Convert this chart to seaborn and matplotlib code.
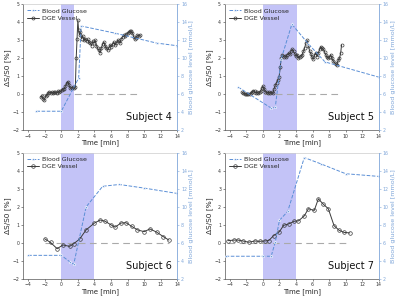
import numpy as np
import pandas as pd
import seaborn as sns
import matplotlib.pyplot as plt

# ---- data ----
subjects = ["Subject 4", "Subject 5", "Subject 6", "Subject 7"]
infusion_end = [1.5, 4.1, 4.0, 4.0]

# blood glucose [mmol/L] (right axis)
bg4_t = [-3, 0, 2.1, 2.4, 6.5, 11.5, 14]
bg4_v = [4.1, 4.1, 7.8, 13.6, 12.8, 11.7, 11.4]
bg5_t = [-3, 1.0, 1.5, 2.2, 3.5, 5.5, 7.5, 14]
bg5_v = [6.8, 4.45, 4.55, 9.9, 13.8, 11.6, 9.6, 7.9]
bg6_t = [-4, 0, 1, 1.5, 3, 5, 7, 10, 14]
bg6_v = [4.6, 4.6, 3.9, 3.6, 10.0, 12.3, 12.5, 12.1, 11.5]
bg7_t = [-4.5, 0, 1, 1.5, 2, 3, 5, 7, 10, 14]
bg7_v = [4.5, 4.5, 4.5, 6.1, 8.5, 9.5, 15.5, 14.8, 13.7, 13.4]

# DGE vessel signal change [%] (left axis)
dge4_t = [-2.5, -2.35, -2.2, -2.05, -1.9, -1.75, -1.6, -1.45, -1.3, -1.15, -1.0, -0.85,
          -0.7, -0.55, -0.4, -0.25, -0.1, 0.05, 0.2, 0.35, 0.5, 0.65, 0.8, 0.95, 1.1, 1.25,
          1.4, 1.55, 1.7, 1.8, 1.9, 2.0, 2.1, 2.2, 2.3, 2.45, 2.6, 2.75, 2.9, 3.05, 3.2,
          3.35, 3.5, 3.65, 3.8, 3.95, 4.1, 4.25, 4.4, 4.55, 4.7, 4.85, 5.0, 5.15, 5.3, 5.45,
          5.6, 5.75, 5.9, 6.05, 6.2, 6.35, 6.5, 6.65, 6.8, 6.95, 7.1, 7.25, 7.4, 7.55, 7.7,
          7.85, 8.0, 8.15, 8.3, 8.45, 8.6, 8.75, 8.9, 9.05, 9.2, 9.35, 9.5]
dge4_v = [-0.15, -0.1, -0.25, -0.3, -0.12, -0.05, 0.05, 0.12, 0.08, 0.1, 0.05, 0.1,
          0.1, 0.05, 0.15, 0.12, 0.15, 0.22, 0.3, 0.28, 0.45, 0.62, 0.7, 0.5, 0.32, 0.35,
          0.4, 0.35, 0.42, 2.0, 3.05, 4.12, 3.55, 3.3, 3.45, 3.1, 3.25, 3.0, 3.1, 2.95, 3.05,
          2.9, 2.85, 2.7, 2.95, 2.85, 3.0, 2.7, 2.55, 2.45, 2.3, 2.6, 2.8, 2.9, 2.7, 2.55,
          2.45, 2.6, 2.75, 2.65, 2.8, 2.9, 2.75, 2.85, 3.0, 2.95, 2.85, 3.1, 3.2, 3.3, 3.25,
          3.35, 3.4, 3.45, 3.5, 3.5, 3.4, 3.2, 3.1, 3.15, 3.3, 3.25, 3.3]

dge5_t = [-2.5, -2.35, -2.2, -2.05, -1.9, -1.75, -1.6, -1.45, -1.3, -1.15, -1.0, -0.85,
          -0.7, -0.55, -0.4, -0.25, -0.1, 0.0, 0.15, 0.3, 0.45, 0.6, 0.75, 0.9, 1.05, 1.2,
          1.35, 1.5, 1.65, 1.8, 1.95, 2.1, 2.2, 2.35, 2.5, 2.65, 2.8, 2.95, 3.1, 3.25, 3.4,
          3.55, 3.7, 3.85, 4.0, 4.15, 4.3, 4.45, 4.6, 4.75, 4.9, 5.05, 5.2, 5.35, 5.5, 5.65,
          5.8, 5.95, 6.1, 6.25, 6.4, 6.55, 6.7, 6.85, 7.0, 7.15, 7.3, 7.45, 7.6, 7.75, 7.9,
          8.05, 8.2, 8.35, 8.5, 8.65, 8.8, 8.95, 9.1, 9.25, 9.4, 9.5]
dge5_v = [0.1, 0.05, 0.02, 0.0, 0.0, 0.02, 0.0, 0.05, 0.12, 0.2, 0.15, 0.08,
          0.12, 0.05, 0.1, 0.2, 0.35, 0.45, 0.3, 0.12, 0.1, 0.08, 0.1, 0.08, 0.1, 0.05,
          0.3, 0.5, 0.65, 0.8, 0.95, 1.5, 2.0, 2.2, 2.1, 2.15, 2.1, 2.2, 2.3, 2.25, 2.4,
          2.5, 2.4, 2.25, 2.15, 2.2, 2.0, 2.1, 2.15, 2.2, 2.4, 2.6, 2.85, 3.0, 2.7, 2.4,
          2.25, 2.05, 1.95, 2.2, 2.3, 2.1, 2.3, 2.5, 2.65, 2.55, 2.5, 2.35, 2.2, 2.05, 2.0,
          2.1, 2.2, 2.0, 1.85, 1.75, 1.7, 1.6, 1.9, 2.0, 2.3, 2.75]

dge6_t = [-2, -1.3, -0.5, 0.2, 1.0, 1.5, 2.2, 3.0, 4.0, 4.7, 5.3, 6.0, 6.5, 7.2, 7.8,
          8.5, 9.2, 10.0, 10.7, 11.5, 12.3, 13.0]
dge6_v = [0.22, 0.02, -0.33, -0.12, -0.2, -0.05, 0.2, 0.72, 1.1, 1.27, 1.2, 1.0, 0.87,
          1.1, 1.12, 0.92, 0.72, 0.62, 0.77, 0.6, 0.35, 0.15]

dge7_t = [-4.2, -3.5, -3.0, -2.4, -1.7, -1.0, -0.4, 0.2, 0.7, 1.3, 2.0, 2.5, 3.1, 3.8,
          4.3, 5.0, 5.5, 6.2, 6.7, 7.3, 7.9, 8.6, 9.2, 9.8, 10.5]
dge7_v = [0.12, 0.15, 0.15, 0.1, 0.03, 0.1, 0.08, 0.1, 0.12, 0.4, 0.62, 0.97, 1.05, 1.2,
          1.22, 1.5, 1.9, 1.8, 2.45, 2.15, 1.9, 0.95, 0.7, 0.58, 0.55]

bg_t = [bg4_t, bg5_t, bg6_t, bg7_t]
bg_v = [bg4_v, bg5_v, bg6_v, bg7_v]
dge_t = [dge4_t, dge5_t, dge6_t, dge7_t]
dge_v = [dge4_v, dge5_v, dge6_v, dge7_v]
dense = [True, True, False, False]

sns.set_theme(style="ticks")
plt.rcParams['font.family'] = ['DejaVu Sans']

bg_color = '#5b8fd6'
axis_blue = '#7fa6d9'
shade = '#c3c3f7'

fig = plt.figure(figsize=(4.0, 2.99), dpi=100)
boxes = [[0.058, 0.565, 0.385, 0.42], [0.562, 0.565, 0.385, 0.42],
         [0.058, 0.068, 0.385, 0.42], [0.562, 0.068, 0.385, 0.42]]

for i in range(4):
    ax = fig.add_axes(boxes[i])
    ax2 = ax.twinx()

    ax.axvspan(0, infusion_end[i], color=shade, lw=0, zorder=0)
    ax.plot([min(dge_t[i]), max(dge_t[i])], [0, 0], ls=(0, (6, 4)), color='#aaaaaa', lw=0.8, zorder=1)

    df = pd.DataFrame({'t': dge_t[i], 'v': dge_v[i]})
    ms = 2.2 if dense[i] else 2.6
    sns.lineplot(data=df, x='t', y='v', ax=ax, color='#3a3a3a', lw=0.7, marker='o',
                 markersize=ms, markerfacecolor='none', markeredgecolor='#3a3a3a',
                 markeredgewidth=0.5, label='DGE Vessel', legend=False, zorder=3)

    bf = pd.DataFrame({'t': bg_t[i], 'v': bg_v[i]})
    sns.lineplot(data=bf, x='t', y='v', ax=ax2, color=bg_color, lw=0.7, linestyle='--',
                 marker='*', markersize=2.5, markeredgewidth=0.3,
                 label='Blood Glucose', legend=False)

    ax.set_xlim(-4.6, 14)
    ax.set_ylim(-2, 5)
    ax2.set_ylim(2, 16)
    ax.set_xticks(range(-4, 15, 2))
    ax.set_yticks(range(-2, 6))
    ax2.set_yticks(range(2, 17, 2))
    ax.tick_params(labelsize=3.3, length=1.5, width=0.4, pad=1.2, colors='#333333')
    ax2.tick_params(labelsize=3.3, length=1.5, width=0.4, pad=1.2, colors=axis_blue)
    for s in ['left', 'bottom', 'top']:
        ax.spines[s].set_linewidth(0.5)
        ax.spines[s].set_color('#555555')
        ax2.spines[s].set_visible(False)
    ax.spines['top'].set_color('#cccccc')
    ax.spines['right'].set_visible(False)
    ax2.spines['right'].set_color(axis_blue)
    ax2.spines['right'].set_linewidth(0.6)
    ax.set_xlabel('Time [min]', fontsize=5, labelpad=0.5)
    ax.set_ylabel('\u0394S/S0 [%]', fontsize=5.3, labelpad=1)
    ax2.set_ylabel('Blood glucose level [mmol/L]', fontsize=4.6, color=axis_blue, labelpad=1.5)
    ax2.text(0.67, 0.08, subjects[i], transform=ax.transAxes, fontsize=7, color='#111111')

    h2, l2 = ax2.get_legend_handles_labels()
    h1, l1 = ax.get_legend_handles_labels()
    ax2.legend(h2 + h1, l2 + l1, loc='upper left', fontsize=4.5, frameon=False,
               handlelength=2.0, borderaxespad=0.2, labelspacing=0.3, handletextpad=0.4)

fig.savefig('out.png', dpi=100)
